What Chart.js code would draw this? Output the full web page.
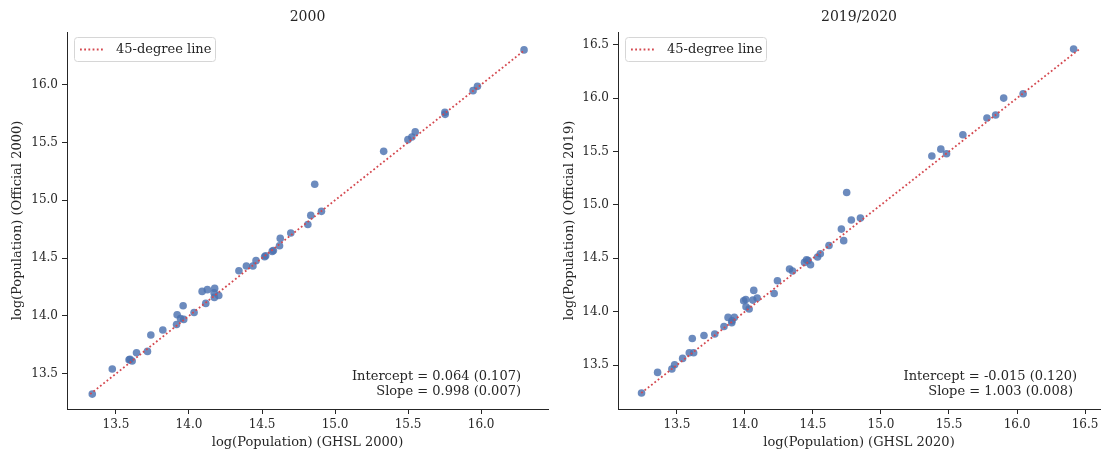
<!DOCTYPE html>
<html>
<head>
<meta charset="utf-8">
<script src="https://cdn.jsdelivr.net/npm/chart.js@4/dist/chart.umd.min.js"></script>
<style>
  body { margin: 0; background: #fff; }
  .panel { position: absolute; top: 0; }
</style>
</head>
<body>
<canvas id="left" class="panel" width="552" height="455" style="left:0"></canvas>
<canvas id="right" class="panel" width="552" height="455" style="left:552px"></canvas>
<script>
// panel 2000
const ghsl2000 = [13.338, 13.475, 13.596, 13.611, 13.59, 13.641, 13.716, 13.739, 13.821, 13.915, 13.919, 13.942, 13.964, 13.96, 14.035, 14.09, 14.126, 14.115, 14.176, 14.172, 14.204, 14.174, 14.342, 14.393, 14.438, 14.459, 14.518, 14.525, 14.57, 14.578, 14.62, 14.625, 14.697, 14.814, 14.834, 14.861, 14.907, 15.333, 15.499, 15.526, 15.549, 15.752, 15.754, 15.945, 15.975, 16.294];
const official2000 = [13.324, 13.541, 13.624, 13.61, 13.62, 13.682, 13.693, 13.835, 13.878, 13.926, 14.01, 13.978, 13.97, 14.088, 14.03, 14.212, 14.227, 14.108, 14.238, 14.20, 14.177, 14.16, 14.391, 14.432, 14.432, 14.478, 14.512, 14.52, 14.558, 14.565, 14.607, 14.67, 14.717, 14.79, 14.869, 15.138, 14.904, 15.423, 15.524, 15.547, 15.591, 15.76, 15.743, 15.948, 15.985, 16.30];
const line2000 = [13.324, 16.30];
const xRange2000 = [13.165, 16.458];
const yRange2000 = [13.195, 16.455];
const xTicks2000 = [13.5, 14.0, 14.5, 15.0, 15.5, 16.0];
const yTicks2000 = [13.5, 14.0, 14.5, 15.0, 15.5, 16.0];
const notes2000 = ['Intercept = 0.064 (0.107)', 'Slope = 0.998 (0.007)'];

// panel 2019/2020
const ghsl2020 = [13.24, 13.358, 13.463, 13.483, 13.542, 13.591, 13.623, 13.613, 13.699, 13.778, 13.846, 13.876, 13.903, 13.905, 13.922, 13.991, 14.006, 14.008, 14.031, 14.058, 14.065, 14.09, 14.215, 14.239, 14.328, 14.35, 14.438, 14.453, 14.465, 14.482, 14.534, 14.554, 14.618, 14.709, 14.726, 14.748, 14.782, 14.849, 15.374, 15.44, 15.482, 15.602, 15.779, 15.843, 15.902, 16.045, 16.416];
const official2019 = [13.238, 13.431, 13.463, 13.503, 13.562, 13.615, 13.615, 13.749, 13.777, 13.79, 13.861, 13.946, 13.896, 13.915, 13.946, 14.102, 14.114, 14.046, 14.024, 14.108, 14.199, 14.127, 14.17, 14.289, 14.399, 14.38, 14.461, 14.486, 14.479, 14.439, 14.511, 14.542, 14.62, 14.773, 14.665, 15.116, 14.858, 14.876, 15.457, 15.522, 15.478, 15.656, 15.813, 15.841, 16.0, 16.04, 16.459];
const line2020 = [13.238, 16.459];
const xRange2020 = [13.067, 16.61];
const yRange2020 = [13.088, 16.619];
const xTicks2020 = [13.5, 14.0, 14.5, 15.0, 15.5, 16.0, 16.5];
const yTicks2020 = [13.5, 14.0, 14.5, 15.0, 15.5, 16.0, 16.5];
const notes2020 = ['Intercept = -0.015 (0.120)', 'Slope = 1.003 (0.008)'];

const FONT = "'DejaVu Serif', serif";
const INK = '#262626';
const DOT = 'rgba(76,114,176,0.82)';
const RED = '#d4484f';

// title, in-axes legend and regression note
const decor = {
  id: 'decor',
  afterDraw(chart, args, opts) {
    const { ctx, chartArea: a } = chart;
    ctx.save();
    ctx.fillStyle = INK;
    ctx.font = `14px ${FONT}`;
    ctx.textAlign = 'center';
    ctx.textBaseline = 'middle';
    ctx.fillText(opts.title, (a.left + a.right) / 2, 17);

    // legend
    const lx = a.left + 7, ly = a.top + 5, lw = 141, lh = 24;
    ctx.beginPath();
    ctx.roundRect(lx + 0.5, ly + 0.5, lw, lh, 3);
    ctx.fillStyle = 'rgba(255,255,255,0.85)';
    ctx.fill();
    ctx.strokeStyle = '#d6d6d6';
    ctx.lineWidth = 1;
    ctx.stroke();
    const line = chart.data.datasets[0];
    ctx.beginPath();
    ctx.setLineDash([1.8, 2.4]);
    ctx.strokeStyle = RED;
    ctx.lineWidth = 1.8;
    ctx.moveTo(lx + 6, ly + lh / 2 + 0.5);
    ctx.lineTo(lx + 30, ly + lh / 2 + 0.5);
    ctx.stroke();
    ctx.setLineDash([]);
    ctx.fillStyle = INK;
    ctx.font = `13px ${FONT}`;
    ctx.textAlign = 'left';
    ctx.fillText(line.label, lx + 42, ly + lh / 2 + 1);

    // note, right aligned
    ctx.textAlign = 'right';
    ctx.fillText(opts.notes[0], a.right - opts.noteInset[0], a.bottom - 32);
    ctx.fillText(opts.notes[1], a.right - opts.noteInset[1], a.bottom - 17);
    ctx.restore();
  }
};

function axis(range, ticks, title, horizontal) {
  return {
    type: 'linear',
    position: horizontal ? 'bottom' : 'left',
    min: range[0],
    max: range[1],
    afterBuildTicks: s => { s.ticks = ticks.map(v => ({ value: v })); },
    afterFit: s => { s.height = 46; },
    border: { display: true, color: INK, width: 1 },
    grid: { display: true, drawOnChartArea: false, drawTicks: true, tickLength: 5, tickColor: INK, tickWidth: 1 },
    ticks: {
      color: INK,
      font: { family: FONT, size: 12 },
      padding: 4,
      callback: v => Number(v).toFixed(1)
    },
    title: {
      display: true,
      text: title,
      color: INK,
      font: { family: FONT, size: 13 },
      padding: horizontal ? { top: 0, bottom: 5 } : { top: 10, bottom: 0 }
    }
  };
}

function panel(id, xs, ys, line45, xr, yr, xt, yt, title, xTitle, yTitle, notes, leftW, noteInset) {
  const x = axis(xr, xt, xTitle, true);
  const y = axis(yr, yt, yTitle, false);
  y.afterFit = s => { s.width = leftW; };
  return new Chart(document.getElementById(id), {
    type: 'scatter',
    data: {
      datasets: [
        {
          type: 'line',
          label: '45-degree line',
          data: line45.map(v => ({ x: v, y: v })),
          borderColor: RED,
          borderWidth: 1.8,
          borderDash: [1.8, 2.4],
          pointRadius: 0,
          fill: false,
          order: 0
        },
        {
          label: 'cities',
          data: xs.map((v, i) => ({ x: v, y: ys[i] })),
          backgroundColor: DOT,
          borderWidth: 0,
          pointRadius: 3.8,
          order: 1
        }
      ]
    },
    options: {
      responsive: false,
      animation: false,
      devicePixelRatio: 1,
      layout: { padding: { top: 32, right: 3, left: 0, bottom: 0 } },
      scales: { x, y },
      plugins: {
        legend: { display: false },
        tooltip: { enabled: false },
        decor: { title, notes, noteInset }
      }
    },
    plugins: [decor]
  });
}

panel('left', ghsl2000, official2000, line2000, xRange2000, yRange2000, xTicks2000, yTicks2000,
  '2000', 'log(Population) (GHSL 2000)', 'log(Population) (Official 2000)', notes2000, 67, [27, 27]);
panel('right', ghsl2020, official2019, line2020, xRange2020, yRange2020, xTicks2020, yTicks2020,
  '2019/2020', 'log(Population) (GHSL 2020)', 'log(Population) (Official 2019)', notes2020, 66, [23, 27]);
</script>
</body>
</html>
